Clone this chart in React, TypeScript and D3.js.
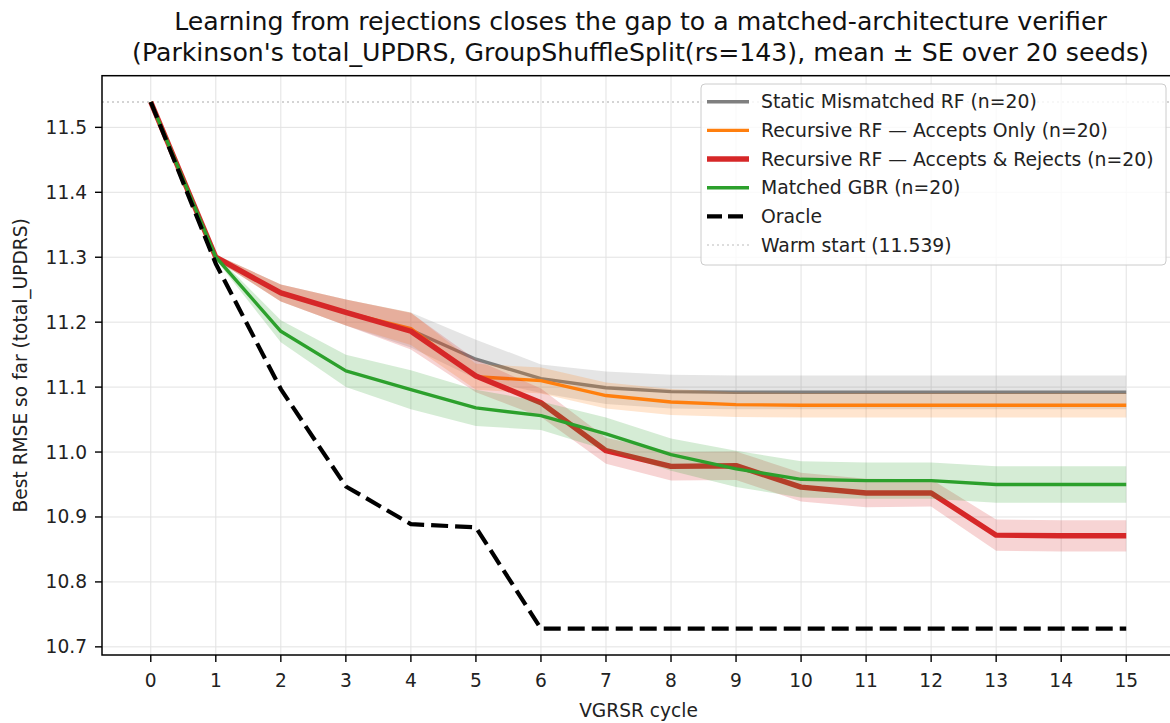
import React from "react";
import * as d3 from "d3";

// VGRSR cycles on the x axis
const cycles = [0, 1, 2, 3, 4, 5, 6, 7, 8, 9, 10, 11, 12, 13, 14, 15];

// Mean best-so-far RMSE per cycle and its standard error (20 seeds)
const staticMean = [11.539, 11.3, 11.245, 11.215, 11.188, 11.143, 11.113, 11.099, 11.093, 11.092, 11.092, 11.092, 11.092, 11.092, 11.092, 11.092];
const staticSE = [0, 0.004, 0.013, 0.02, 0.027, 0.03, 0.022, 0.025, 0.026, 0.026, 0.026, 0.026, 0.026, 0.026, 0.026, 0.026];

const acceptsMean = [11.539, 11.3, 11.245, 11.215, 11.19, 11.116, 11.11, 11.087, 11.077, 11.073, 11.072, 11.072, 11.072, 11.072, 11.072, 11.072];
const acceptsSE = [0, 0.004, 0.013, 0.02, 0.025, 0.02, 0.02, 0.02, 0.02, 0.019, 0.019, 0.019, 0.019, 0.019, 0.019, 0.019];

const rejectsMean = [11.539, 11.3, 11.245, 11.215, 11.186, 11.117, 11.076, 11.002, 10.978, 10.979, 10.946, 10.937, 10.937, 10.872, 10.871, 10.871];
const rejectsSE = [0, 0.004, 0.013, 0.02, 0.028, 0.025, 0.022, 0.02, 0.022, 0.022, 0.022, 0.022, 0.021, 0.024, 0.024, 0.024];

const gbrMean = [11.539, 11.3, 11.186, 11.125, 11.096, 11.068, 11.056, 11.028, 10.996, 10.974, 10.958, 10.956, 10.956, 10.95, 10.95, 10.95];
const gbrSE = [0, 0.004, 0.017, 0.025, 0.03, 0.028, 0.022, 0.025, 0.025, 0.028, 0.028, 0.028, 0.028, 0.028, 0.028, 0.028];

const oracle = [11.539, 11.29, 11.097, 10.947, 10.889, 10.884, 10.728, 10.728, 10.728, 10.728, 10.728, 10.728, 10.728, 10.728, 10.728, 10.728];

const warmStart = 11.539;

const yTicks = [10.7, 10.8, 10.9, 11.0, 11.1, 11.2, 11.3, 11.4, 11.5];

const seriesLabels = [
  "Static Mismatched RF (n=20)",
  "Recursive RF \u2014 Accepts Only (n=20)",
  "Recursive RF \u2014 Accepts & Rejects (n=20)",
  "Matched GBR (n=20)",
];
const oracleLabel = "Oracle";
const warmLabel = "Warm start (11.539)";

const titleLines = [
  "Learning from rejections closes the gap to a matched-architecture verifier",
  "(Parkinson's total_UPDRS, GroupShuffleSplit(rs=143), mean \u00b1 SE over 20 seeds)",
];

const FONT = "'DejaVu Sans', sans-serif";
const W = 1170;
const H = 723;
const M = { left: 102, right: 1175, top: 75.7, bottom: 655 };

const series = [
  { mean: staticMean, se: staticSE, color: "#7f7f7f", width: 3.4 },
  { mean: acceptsMean, se: acceptsSE, color: "#ff7f0e", width: 3.4 },
  { mean: rejectsMean, se: rejectsSE, color: "#d62728", width: 5.4 },
  { mean: gbrMean, se: gbrSE, color: "#2ca02c", width: 3.4 },
];

function padded(lo: number, hi: number) {
  const p = (hi - lo) * 0.05;
  return [lo - p, hi + p];
}

export default function App() {
  const [x0, x1] = padded(d3.min(cycles)!, d3.max(cycles)!);
  const x = d3.scaleLinear().domain([x0, x1]).range([M.left, M.right]);

  const allLo = d3.min([
    ...series.flatMap((s) => s.mean.map((v, i) => v - s.se[i])),
    ...oracle,
  ])!;
  const allHi = d3.max([
    ...series.flatMap((s) => s.mean.map((v, i) => v + s.se[i])),
    ...oracle,
    warmStart,
  ])!;
  const [y0, y1] = padded(allLo, allHi);
  const y = d3.scaleLinear().domain([y0, y1]).range([M.bottom, M.top]);

  const line = d3
    .line<number>()
    .x((_, i) => x(cycles[i]))
    .y((v) => y(v));

  const band = (mean: number[], se: number[]) =>
    d3
      .area<number>()
      .x((_, i) => x(cycles[i]))
      .y0((v, i) => y(v - se[i]))
      .y1((v, i) => y(v + se[i]))(mean) || "";

  const gridColor = "#e2e2e2";
  const dash = "17 7";

  // legend geometry
  const lg = { x: 701, y: 84, w: 465, h: 181, row: 28.66, first: 101.7 };
  const legendRows = [
    ...series.map((s, i) => ({ label: seriesLabels[i], color: s.color, width: s.width, dash: undefined as string | undefined, opacity: 1 })),
    { label: oracleLabel, color: "#000", width: 4.2, dash: "15 6", opacity: 1 },
    { label: warmLabel, color: "#aaaaaa", width: 1.1, dash: "2 3", opacity: 0.8 },
  ];

  return (
    <svg
      width={W}
      height={H}
      viewBox={`0 0 ${W} ${H}`}
      style={{ position: "absolute", left: 0, top: 0, background: "#fff" }}
      fontFamily={FONT}
    >
      <defs>
        <clipPath id="plotArea">
          <rect x={M.left} y={M.top} width={M.right - M.left} height={M.bottom - M.top} />
        </clipPath>
      </defs>
      <rect x={0} y={0} width={W} height={H} fill="#fff" />

      {/* grid */}
      <g stroke={gridColor} strokeWidth={1}>
        {cycles.map((c) => (
          <line key={`gx${c}`} x1={x(c)} x2={x(c)} y1={M.top} y2={M.bottom} />
        ))}
        {yTicks.map((t) => (
          <line key={`gy${t}`} x1={M.left} x2={M.right} y1={y(t)} y2={y(t)} />
        ))}
      </g>

      <g clipPath="url(#plotArea)">
        {/* warm start reference */}
        <line
          x1={M.left}
          x2={M.right}
          y1={y(warmStart)}
          y2={y(warmStart)}
          stroke="#aaaaaa"
          strokeWidth={1.1}
          strokeDasharray="2 3"
        />
        {series.map((s, i) => (
          <g key={`s${i}`}>
            <path d={band(s.mean, s.se)} fill={s.color} fillOpacity={0.2} stroke="none" />
            <path
              d={line(s.mean) || ""}
              fill="none"
              stroke={s.color}
              strokeWidth={s.width}
              strokeLinejoin="round"
              strokeLinecap="butt"
            />
          </g>
        ))}
        <path
          d={line(oracle) || ""}
          fill="none"
          stroke="#000"
          strokeWidth={4.2}
          strokeDasharray={dash}
          strokeLinejoin="round"
        />
      </g>

      {/* spines */}
      <rect
        x={M.left}
        y={M.top}
        width={M.right - M.left}
        height={M.bottom - M.top}
        fill="none"
        stroke="#000"
        strokeWidth={1.5}
      />

      {/* y axis */}
      <g fontSize={18.6} fill="#222">
        {yTicks.map((t) => (
          <g key={`yt${t}`}>
            <line x1={M.left - 7} x2={M.left} y1={y(t)} y2={y(t)} stroke="#000" strokeWidth={1.4} />
            <text x={M.left - 15} y={y(t)} textAnchor="end" dominantBaseline="central">
              {d3.format(".1f")(t)}
            </text>
          </g>
        ))}
      </g>

      {/* x axis */}
      <g fontSize={18.6} fill="#222">
        {cycles.map((c) => (
          <g key={`xt${c}`}>
            <line x1={x(c)} x2={x(c)} y1={M.bottom} y2={M.bottom + 7} stroke="#000" strokeWidth={1.4} />
            <text x={x(c)} y={687} textAnchor="middle">
              {c}
            </text>
          </g>
        ))}
      </g>

      <text x={(M.left + M.right) / 2} y={717} textAnchor="middle" fontSize={18.6} fill="#222">
        VGRSR cycle
      </text>
      <text
        transform={`translate(27, ${(M.top + M.bottom) / 2}) rotate(-90)`}
        textAnchor="middle"
        fontSize={18.6}
        fill="#222"
      >
        Best RMSE so far (total_UPDRS)
      </text>

      {/* title */}
      <g fontSize={25.2} fill="#111" textAnchor="middle">
        <text x={(M.left + M.right) / 2 + 2} y={30}>
          {titleLines[0]}
        </text>
        <text x={(M.left + M.right) / 2 + 2} y={61}>
          {titleLines[1]}
        </text>
      </g>

      {/* legend */}
      <g>
        <rect
          x={lg.x}
          y={lg.y}
          width={lg.w}
          height={lg.h}
          rx={4}
          fill="#fff"
          fillOpacity={0.8}
          stroke="#cccccc"
          strokeWidth={1}
        />
        {legendRows.map((r, i) => {
          const cy = lg.first + i * lg.row;
          return (
            <g key={`lg${i}`}>
              <line
                x1={707}
                x2={749}
                y1={cy}
                y2={cy}
                stroke={r.color}
                strokeWidth={r.width}
                strokeDasharray={r.dash}
                strokeOpacity={r.opacity}
              />
              <text x={761} y={cy} dominantBaseline="central" fontSize={18.8} fill="#222">
                {r.label}
              </text>
            </g>
          );
        })}
      </g>
    </svg>
  );
}
